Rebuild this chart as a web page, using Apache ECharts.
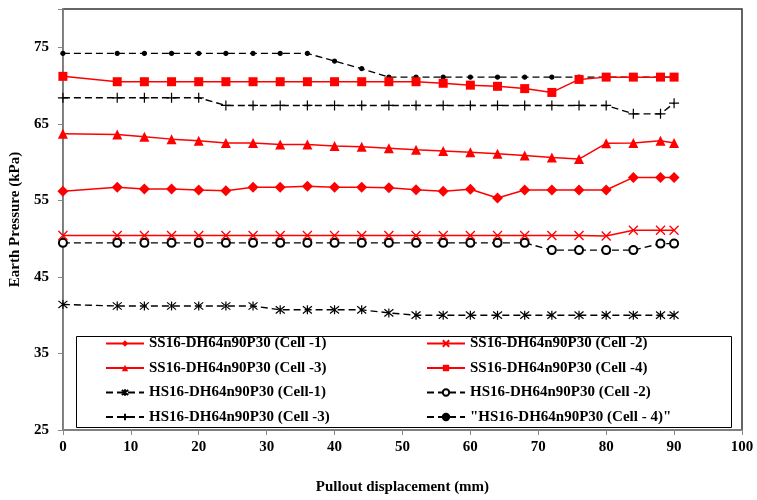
<!DOCTYPE html>
<html>
<head>
<meta charset="utf-8">
<script src="https://cdn.jsdelivr.net/npm/echarts@6/dist/echarts.min.js"></script>
<style>html,body{margin:0;padding:0;background:#fff}#c{width:757px;height:500px}</style>
</head>
<body>
<div id="c"></div>
<script>
const xValues = [0,8,12,16,20,24,28,32,36,40,44,48,52,56,60,64,68,72,76,80,84,88,90];
const ss1 = [56.2,56.7,56.5,56.5,56.35,56.25,56.7,56.7,56.85,56.7,56.7,56.65,56.4,56.2,56.45,55.3,56.35,56.35,56.35,56.35,58.0,58.0,58.0];
const ss2 = [50.4,50.4,50.4,50.4,50.4,50.4,50.4,50.4,50.4,50.4,50.4,50.4,50.4,50.4,50.4,50.4,50.4,50.4,50.4,50.35,51.1,51.1,51.1];
const ss3 = [63.7,63.6,63.3,63.0,62.8,62.5,62.5,62.3,62.3,62.1,62.0,61.8,61.6,61.45,61.3,61.1,60.85,60.6,60.4,62.45,62.5,62.8,62.5];
const ss4 = [71.2,70.5,70.5,70.5,70.5,70.5,70.5,70.5,70.5,70.5,70.5,70.5,70.5,70.3,70.05,69.9,69.6,69.1,70.8,71.1,71.1,71.1,71.1];
const hs1 = [41.4,41.2,41.2,41.2,41.2,41.2,41.2,40.7,40.7,40.7,40.7,40.3,40.0,40.0,40.0,40.0,40.0,40.0,40.0,40.0,40.0,40.0,40.0];
const hs2 = [49.45,49.45,49.45,49.45,49.45,49.45,49.45,49.45,49.45,49.45,49.45,49.45,49.45,49.45,49.45,49.45,49.45,48.5,48.5,48.5,48.5,49.35,49.35];
const hs3 = [68.4,68.4,68.4,68.4,68.4,67.4,67.4,67.4,67.4,67.4,67.4,67.4,67.4,67.4,67.4,67.4,67.4,67.4,67.4,67.4,66.3,66.3,67.7];
const hs4 = [74.2,74.2,74.2,74.2,74.2,74.2,74.2,74.2,74.2,73.2,72.2,71.1,71.1,71.1,71.1,71.1,71.1,71.1,71.1,71.1,71.1,71.1,71.1];
const seriesNames = [
  "SS16-DH64n90P30 (Cell -1)",
  "SS16-DH64n90P30 (Cell -2)",
  "SS16-DH64n90P30 (Cell -3)",
  "SS16-DH64n90P30 (Cell -4)",
  "HS16-DH64n90P30 (Cell-1)",
  "HS16-DH64n90P30 (Cell -2)",
  "HS16-DH64n90P30 (Cell -3)",
  "\"HS16-DH64n90P30 (Cell - 4)\""
];
const xTitle = "Pullout displacement (mm)";
const yTitle = "Earth Pressure (kPa)";

const FONT = "'Liberation Serif','Times New Roman',serif";
const pairs = arr => xValues.map((x,i)=>[x,arr[i]]);

const X_PATH = 'path://M0,0L10,10M10,0L0,10';
const PLUS_PATH = 'path://M5,0L5,10M0,5L10,5';
const STAR_PATH = 'path://M1,1L9,9M9,1L1,9M5,0L5,10';

function redSeries(name, data, symbol, size, stroke) {
  return {
    name, type:'line', data: pairs(data), symbol, symbolSize: size,
    lineStyle:{color:'#ff0000', width:1.5},
    itemStyle: stroke ? {color:'#ff0000', borderColor:'#ff0000', borderWidth:1.3}
                      : {color:'#ff0000'},
    z: 3
  };
}
function blackSeries(name, data, symbol, size, opts) {
  return Object.assign({
    name, type:'line', data: pairs(data), symbol, symbolSize: size,
    lineStyle:{color:'#000', width:1.4, type:[7,4]},
    itemStyle:{color:'#000', borderColor:'#000', borderWidth:1.2},
    z: 2
  }, opts||{});
}

const chart = echarts.init(document.getElementById('c'), null, {renderer:'canvas'});
const legendCommon = {
  orient:'vertical', top:336, itemWidth:38, itemHeight:8, itemGap:9.5, padding:0,
  textStyle:{fontFamily:FONT, fontWeight:'bold', fontSize:15, color:'#000'}
};
chart.setOption({
  animation:false,
  backgroundColor:'#fff',
  grid:{left:62, right:15, top:9, bottom:68, show:true, borderColor:'#333', borderWidth:1.5},
  xAxis:{
    type:'value', min:0, max:100, interval:10,
    name:xTitle, nameLocation:'middle', nameGap:50,
    nameTextStyle:{fontFamily:FONT, fontWeight:'bold', fontSize:15, color:'#000'},
    axisLine:{show:true, lineStyle:{color:'#888', width:1.5}},
    axisTick:{show:true, length:5, lineStyle:{color:'#888'}},
    axisLabel:{fontFamily:FONT, fontWeight:'bold', fontSize:15, color:'#000', margin:10},
    splitLine:{show:false}
  },
  yAxis:{
    type:'value', min:25, max:80, interval:10,
    name:yTitle, nameLocation:'middle', nameGap:35, nameRotate:90,
    nameTextStyle:{fontFamily:FONT, fontWeight:'bold', fontSize:15, color:'#000'},
    axisLine:{show:true, lineStyle:{color:'#888', width:1.5}},
    axisTick:{show:true, length:5, lineStyle:{color:'#888'}},
    axisLabel:{fontFamily:FONT, fontWeight:'bold', fontSize:15, color:'#000', margin:14,
      formatter: v => (v===80 ? '' : String(v))},
    splitLine:{show:false}
  },
  legend:[
    Object.assign({left:105, data:[seriesNames[0],seriesNames[2],seriesNames[4],seriesNames[6]]}, legendCommon),
    Object.assign({left:426, data:[seriesNames[1],seriesNames[3],seriesNames[5],seriesNames[7]]}, legendCommon)
  ],
  graphic:[{
    type:'rect', left:74, top:334, z:100,
    shape:{width:655, height:91},
    style:{fill:'none', stroke:'#000', lineWidth:1}
  }],
  series:[
    redSeries(seriesNames[0], ss1, 'diamond', 11),
    redSeries(seriesNames[1], ss2, X_PATH, 9, true),
    redSeries(seriesNames[2], ss3, 'triangle', 10),
    redSeries(seriesNames[3], ss4, 'rect', 9),
    blackSeries(seriesNames[4], hs1, STAR_PATH, 9),
    blackSeries(seriesNames[5], hs2, 'emptyCircle', 8, {itemStyle:{color:'#000', borderColor:'#000', borderWidth:1.2}}),
    blackSeries(seriesNames[6], hs3, PLUS_PATH, 10),
    blackSeries(seriesNames[7], hs4, 'circle', 4)
  ]
});
</script>
</body>
</html>
